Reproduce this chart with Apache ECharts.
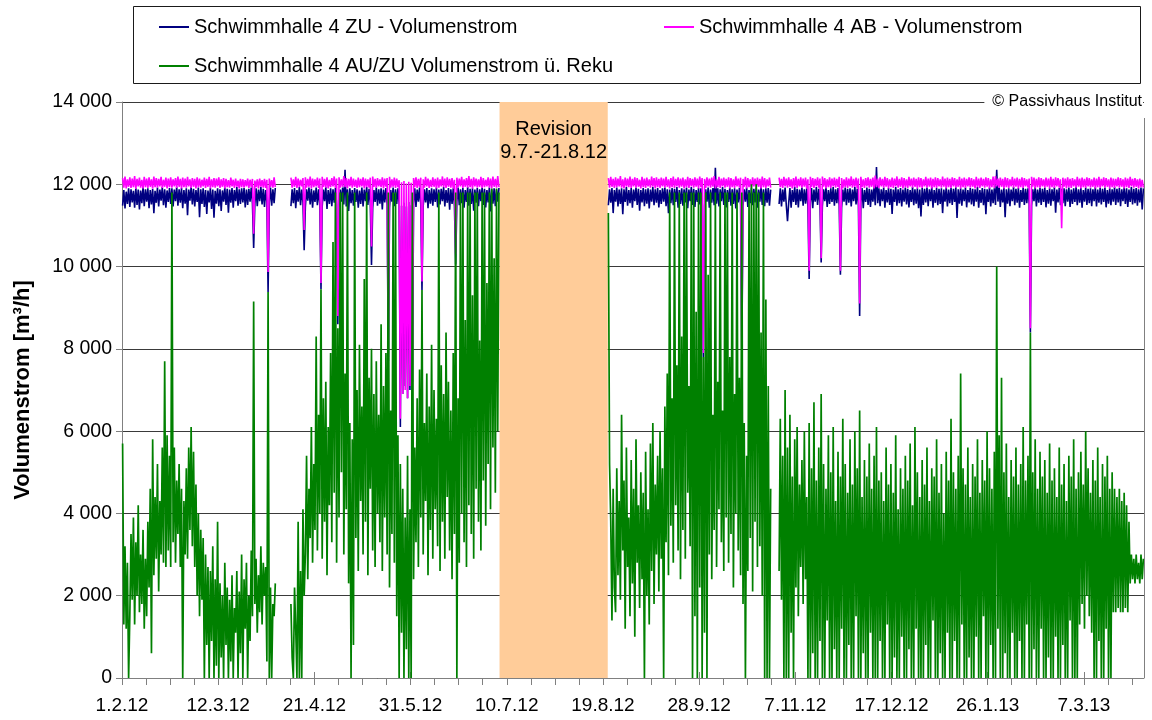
<!DOCTYPE html>
<html>
<head>
<meta charset="utf-8">
<script src="https://cdn.jsdelivr.net/npm/echarts@6/dist/echarts.min.js"></script>
<style>
  html, body { margin: 0; padding: 0; background: #fff; }
  #chart { width: 1152px; height: 720px; }
</style>
</head>
<body>
<div id="chart"></div>
<script>
// Volume flow of the pool hall ventilation unit, 1.2.2012 - 31.3.2013.
// Measured values are sampled every 12 hours; each list of a series holds one
// measuring period (the unit was off between the periods).

const seriesNames = [
  'Schwimmhalle 4 ZU - Volumenstrom',
  'Schwimmhalle 4 AB - Volumenstrom',
  'Schwimmhalle 4 AU/ZU Volumenstrom ü. Reku'
];

// first day of each measuring period (days since 1.2.2012)
const periodStart = [0, 70, 202, 273];
const sampleStep = 0.5; // days

// x axis: labelled dates every 40 days, minor ticks every 10 days
const labelDays = [0, 40, 80, 120, 160, 200, 240, 280, 320, 360, 400];
const tickDays = [0, 10, 20, 30, 40, 50, 60, 70, 80, 90, 100, 110, 120, 130, 140, 150, 160, 170, 180, 190, 200,
  210, 220, 230, 240, 250, 260, 270, 280, 290, 300, 310, 320, 330, 340, 350, 360, 370, 380, 390, 400, 410, 420];
const dayMax = 425;

// maintenance shutdown
const revisionFrom = 157;
const revisionTo = 202;
const revisionText = 'Revision\n9.7.-21.8.12';

// supply air flow [m³/h]
const zuFlow = [
  [11480,11860, 11410,11820, 11520,11900, 11450,11880, 11560,11840, 11430,11910, 11500,11870, 11390,11850, 11540,11930, 11470,11880,
   11580,11900, 11420,11860, 11510,11890, 11300,11840, 11550,11920, 11460,11870, 11600,11930, 11490,11880, 11430,11850, 11570,11910,
   11520,11900, 11460,11870, 11590,11940, 11480,11880, 11550,11910, 11420,11860, 11530,11900, 11250,11870, 11600,11930, 11510,11890,
   11460,11860, 11570,11920, 11200,11880, 11520,11900, 11450,11860, 11280,11850, 11560,11910, 11400,11870, 11190,11840, 11530,11900,
   11470,11880, 11350,11850, 11580,11920, 11500,11890, 11310,11870, 11550,11910, 11430,11860, 11590,11930, 11480,11880, 11520,11900,
   11560,11910, 11440,11870, 11500,11890, 11580,11920, 11530,10450, 11530,11900, 11470,11870, 11590,11930, 11510,11890, 11450,11860,
   11560,9380, 11560,11920, 11480,11880, 11540,11910],
  [11470,11880, 11540,11910, 11420,11860, 11580,11930, 11490,11870, 11560,10400, 11450,11880, 11600,11920, 11510,11890, 11430,11850,
   11570,11920, 11490,11880, 11530,9450, 11460,11870, 11590,11930, 11400,11860, 11520,11900, 11470,11880, 11550,11910, 11500,8600,
   11440,11870, 11580,11920, 11510,12350, 11460,11880, 11350,11900, 11540,11860, 11480,11910, 11570,11880, 11430,11850, 11520,11920,
   11460,11870, 11590,11930, 11500,11890, 11540,10040, 11420,11860, 11570,11920, 11480,11880, 11530,11900, 11390,11870, 11560,11910,
   11500,7700, 11440,11860, 11580,11920, 11470,11880, 11520,11900, 11530,6100, 11480,6900, 11550,7100, 11460,6800, 11570,7000,
   11490,7200, 11540,11900, 11450,11870, 11580,11920, 11510,9430, 11470,11880, 11560,11910, 11420,11860, 11530,11900, 11480,11880,
   11570,11920, 11440,11870, 11510,11890, 11590,11930, 11460,11860, 11550,11910, 11380,11880, 11520,11900, 11470,10050, 11580,11920,
   11490,11880, 11540,11910, 11430,11860, 11570,11930, 11480,11890, 11520,11900, 11360,11870, 11550,11910, 11470,11880, 11590,11920,
   11500,11890, 11440,11860, 11560,11920, 11340,11880, 11530,11900, 11470,11870, 11580,11910],
  [11490,11880, 11550,11910, 11300,11860, 11580,11920, 11460,11870, 11520,11900, 11270,11880, 11570,11930, 11480,11860, 11540,11910,
   11430,11870, 11590,11920, 11500,11890, 11360,11860, 11560,11910, 11470,11880, 11530,11900, 11410,11870, 11580,11930, 11490,11880,
   11550,11910, 11440,11860, 11520,11900, 11580,11920, 11470,11880, 11300,11870, 11540,11910, 11490,11890, 11570,11930, 11430,11860,
   11520,11900, 11480,11880, 11560,11920, 11420,11870, 11590,11930, 11500,11890, 11450,11860, 11570,11910, 11510,11900, 11540,7800,
   11470,11880, 11580,11920, 11430,11870, 11550,11910, 11490,12400, 11530,11900, 11460,11880, 11590,11930, 11500,11890, 11440,11860,
   11570,11920, 11480,11880, 11520,11900, 11410,11870, 11560,11910, 11500,7900, 11470,11880, 11580,11920, 11450,11860, 11540,11910,
   11490,11890, 11560,11920, 11430,11870, 11580,11930, 11500,11880, 11470,11900, 11550,11910, 11480,11870],
  [11520,11900, 11460,11870, 11580,11920, 11490,11100, 11550,11910, 11430,11860, 11570,11930, 11500,11890, 11440,11870, 11590,11920,
   11480,11880, 11530,11900, 11460,9700, 11560,11910, 11420,11870, 11580,11930, 11500,11890, 11540,10100, 11470,11880, 11590,11920,
   11450,11860, 11520,11900, 11570,11930, 11480,11880, 11540,11910, 11500,9800, 11430,11870, 11580,11920, 11490,11890, 11550,11900,
   11460,11870, 11590,11930, 11510,11890, 11480,8800, 11560,11910, 11420,11860, 11570,11920, 11500,11890, 11450,11870, 11580,11930,
   11490,12420, 11540,11900, 11470,11880, 11590,11920, 11430,11860, 11560,11910, 11500,11890, 11280,11870, 11570,11930, 11480,11880,
   11540,11910, 11460,11870, 11580,11920, 11510,11890, 11440,11860, 11570,11930, 11490,11880, 11530,11900, 11420,11870, 11220,11910,
   11500,11890, 11560,11920, 11470,11880, 11590,11930, 11430,11860, 11550,11910, 11490,11890, 11520,11900, 11300,11870, 11580,11920,
   11460,11870, 11540,11910, 11500,11890, 11570,11930, 11180,11880, 11530,11900, 11480,11870, 11590,11920, 11440,11860, 11560,11910,
   11510,11890, 11470,11880, 11580,11930, 11430,11860, 11550,11910, 11490,11890, 11270,11880, 11570,11920, 11460,11870, 11540,11900,
   11500,12350, 11580,11920, 11450,11870, 11560,11910, 11200,11880, 11530,11900, 11470,11870, 11590,11930, 11490,11890, 11550,11910,
   11430,11860, 11570,11920, 11500,11890, 11540,11900, 11520,8400, 11480,11880, 11590,11930, 11460,11870, 11550,11910, 11500,11890,
   11570,11920, 11440,11860, 11530,11900, 11480,11880, 11590,11930, 11310,11870, 11560,11910, 11490,11890, 11540,11900, 11470,11880,
   11580,11920, 11450,11870, 11520,11900, 11570,11930, 11490,11880, 11550,11910, 11430,11860, 11580,11920, 11500,11890, 11540,11900,
   11470,11880, 11590,11930, 11460,11870, 11550,11910, 11510,11890, 11570,11920, 11440,11860, 11530,11900, 11490,11880, 11580,11930,
   11500,11890, 11560,11910, 11470,11880, 11590,11920, 11520,11900, 11450,11870, 11570,11930, 11510,11890, 11540,11910, 11480,11880,
   11560,11920, 11390,11900]
];

// exhaust air flow [m³/h]
const abFlow = [
  [12150,11920, 12190,11900, 12120,11940, 12170,11910, 12140,11930, 12200,11890, 12130,11950, 12160,11920, 12110,11900, 12180,11930,
   12140,11910, 12170,11940, 12120,11900, 12190,11930, 12150,11920, 12130,11950, 12180,11910, 12110,11940, 12160,11900, 12140,11930,
   12170,11920, 12120,11950, 12150,11910, 12190,11940, 12130,11900, 12160,11930, 12140,11920, 12180,11950, 12120,11910, 12150,11940,
   12130,11900, 12170,11930, 12140,11920, 12110,11950, 12160,11910, 12130,11940, 12180,11900, 12120,11930, 12150,11920, 12140,11950,
   12170,11910, 12120,11940, 12150,11900, 12130,11930, 12100,11920, 12160,11950, 12110,11910, 12140,11940, 12090,11900, 12130,11930,
   12120,11920, 12100,11950, 12140,11910, 12110,11940, 12130,10800, 12090,11930, 12120,11900, 12140,11940, 12100,11920, 12130,11910,
   12110,9870, 12140,11940, 12100,11920, 12170,11930],
  [12160,11920, 12120,11940, 12180,11910, 12140,11930, 12110,11950, 12150,10890, 12170,11920, 12130,11940, 12190,11900, 12140,11930,
   12120,11950, 12160,11910, 12140,9600, 12180,11940, 12130,11920, 12170,11900, 12110,11930, 12150,11950, 12190,11910, 12140,8800,
   12170,11920, 12120,11940, 12200,11930, 12150,11900, 12130,11950, 12180,11920, 12140,11940, 12110,11910, 12160,11930, 12130,11950,
   12170,11900, 12140,11930, 12120,11920, 12160,10490, 12190,11940, 12130,11910, 12150,11950, 12120,11930, 12170,11900, 12140,11940,
   12150,7800, 12180,11920, 12120,11940, 12160,11910, 12140,11930, 12100,6300, 12050,6900, 12080,7000, 12020,6800, 12060,7100,
   12040,7000, 12150,11930, 12170,11910, 12130,11940, 12160,9640, 12120,11920, 12180,11950, 12140,11910, 12110,11930, 12170,11940,
   12130,11900, 12160,11920, 12120,11950, 12190,11930, 12140,11910, 12170,11940, 12130,11920, 12150,11900, 12110,10300, 12160,11930,
   12140,11950, 12180,11910, 12120,11940, 12150,11920, 12200,11930, 12130,11900, 12170,11950, 12140,11920, 12120,11940, 12180,11910,
   12150,11930, 12110,11950, 12170,11920, 12140,11900, 12190,11940, 12130,11920, 12200,11930],
  [12150,11920, 12180,11940, 12130,11910, 12170,11930, 12140,11950, 12200,11920, 12120,11900, 12160,11940, 12140,11930, 12190,11910,
   12130,11950, 12170,11920, 12150,11940, 12110,11900, 12180,11930, 12140,11910, 12160,11950, 12120,11920, 12190,11940, 12150,11900,
   12170,11930, 12130,11910, 12160,11950, 12140,11920, 12180,11940, 12120,11900, 12150,11930, 12190,11910, 12130,11950, 12170,11920,
   12140,11940, 12160,11900, 12120,11930, 12180,11910, 12150,11950, 12130,11920, 12170,11940, 12140,11900, 12190,11930, 12150,7900,
   12130,11910, 12170,11950, 12140,11920, 12160,11940, 12200,11900, 12120,11930, 12180,11910, 12140,11950, 12160,11920, 12130,11940,
   12170,11900, 12150,11930, 12120,11910, 12190,11950, 12140,11920, 12160,7950, 12130,11940, 12180,11900, 12150,11930, 12120,11910,
   12170,11950, 12140,11920, 12160,11940, 12130,11900, 12190,11930, 12150,11910, 12120,11950, 12160,11920],
  [12160,11930, 12130,11910, 12180,11950, 12140,11920, 12170,11940, 12120,11900, 12150,11930, 12190,11910, 12130,11950, 12170,11920,
   12140,11940, 12160,11900, 12120,9900, 12180,11930, 12150,11910, 12130,11950, 12170,11920, 12140,10200, 12190,11940, 12150,11900,
   12120,11930, 12170,11910, 12140,11950, 12160,11920, 12130,11940, 12180,9900, 12150,11900, 12120,11930, 12170,11910, 12140,11950,
   12190,11920, 12130,11940, 12160,11900, 12140,9100, 12180,11930, 12120,11910, 12150,11950, 12170,11920, 12130,11940, 12160,11900,
   12210,11930, 12140,11910, 12170,11950, 12130,11920, 12180,11940, 12150,11900, 12120,11930, 12160,11910, 12140,11950, 12190,11920,
   12130,11940, 12170,11900, 12150,11930, 12120,11910, 12180,11950, 12140,11920, 12160,11940, 12130,11900, 12170,11930, 12150,11910,
   12120,11950, 12180,11920, 12140,11940, 12160,11900, 12130,11930, 12170,11910, 12150,11950, 12120,11920, 12190,11940, 12140,11900,
   12160,11930, 12130,11910, 12170,11950, 12150,11920, 12120,11940, 12180,11900, 12140,11930, 12160,11910, 12130,11950, 12170,11920,
   12150,11940, 12120,11900, 12180,11930, 12140,11910, 12160,11950, 12130,11920, 12170,11940, 12150,11900, 12120,11930, 12190,11910,
   12200,11950, 12140,11920, 12160,11940, 12130,11900, 12170,11930, 12150,11910, 12120,11950, 12180,11920, 12140,11940, 12160,11900,
   12130,11930, 12170,11910, 12150,11950, 12120,11920, 12140,8500, 12180,11940, 12160,11900, 12130,11930, 12170,11910, 12150,11950,
   12120,11920, 12160,11940, 12140,11900, 12180,11930, 12130,11910, 12170,11950, 12150,11920, 12120,10930, 12160,11940, 12140,11900,
   12170,11930, 12130,11910, 12150,11950, 12120,11920, 12180,11940, 12140,11900, 12160,11930, 12130,11910, 12170,11950, 12150,11920,
   12120,11940, 12160,11900, 12140,11930, 12180,11910, 12130,11950, 12170,11920, 12150,11940, 12120,11900, 12160,11930, 12140,11910,
   12130,11950, 12170,11920, 12150,11940, 12120,11900, 12160,11930, 12140,11910, 12180,11950, 12130,11920, 12150,11940, 12120,11900,
   12140,11930, 12110,11920]
];

// outdoor / supply air flow through the heat recovery [m³/h]
const auFlow = [
  [5700,1300, 3200,1200, 2800,0, 1500,3500, 1900,3900, 1300,3300, 2000,4200, 1600,3000, 1800,3600, 1200,2900,
   1500,3800, 2200,4600, 600,5800, 2500,4400, 2900,5200, 2100,4300, 3000,5600, 2800,7700, 2700,5900, 3100,5400,
   2700,11800, 3300,5600, 2800,4800, 3500,5200, 2700,4600, 0,4300, 3000,5100, 2900,5600, 3600,6100, 3200,5500,
   2700,4700, 2000,4000, 1500,3600, 1900,3400, 0,3000, 800,2700, 0,2600, 900,3200, 0,2400, 300,3800,
   0,2300, 500,2000, 0,2800, 800,2200, 0,1900, 400,2500, 0,1700, 1100,2600, 0,2100, 600,3000,
   0,2400, 1200,2800, 0,2000, 900,3100, 1500,9150, 1800,2900, 1100,2500, 1600,3200, 1300,2800, 2000,2700,
   400,9380, 0,2200, 0,1800, 1500,2300],
  [1800,500, 0,2200, 1200,0, 3800,0, 2600,0, 4100,2000, 3000,5400, 2400,4600, 3400,6100, 2800,5200,
   3600,8300, 3100,6400, 4000,9450, 2900,6800, 3800,7200, 2500,6100, 4200,7900, 3300,10600, 4500,11800, 2800,8500,
   3900,11800, 5000,11800, 3000,7400, 4100,11800, 2300,6200, 0,5800, 800,11800, 3400,7000, 2600,8100, 4300,6600,
   3000,9700, 3800,11800, 2500,7300, 4600,8000, 3100,6900, 2700,7700, 4000,6400, 3300,8600, 2600,7100, 3900,7900,
   3000,11800, 2200,6500, 3500,11800, 2800,11800, 1500,5900, 0,5200, 1100,4600, 0,3900, 700,5400, 0,4100,
   0,11800, 2400,5600, 3300,6800, 2700,7500, 3900,9430, 3000,6200, 4300,7400, 2500,6600, 3600,8100, 2900,7000,
   4100,6300, 3200,11800, 2600,7600, 3800,6900, 2900,8400, 4400,7200, 3100,6500, 2400,7900, 3500,11800, 0,6800,
   2800,11800, 4000,11800, 3300,8700, 2700,11800, 4200,11800, 3500,9300, 2900,11800, 4600,11800, 3800,8200, 3100,11800,
   4800,11800, 3700,9600, 5200,11800, 4100,11900, 5600,10200, 4500,11900, 6000,11800],
  [11300,5200, 3800,1400, 4600,2200, 1600,5100, 2500,4300, 1900,6400, 3100,4800, 1200,5600, 2700,3900, 1500,5300,
   2300,4600, 1000,5800, 2800,4200, 1700,5000, 2400,4500, 0,5500, 2000,4100, 1300,5700, 2600,6200, 1800,4700,
   3000,5400, 2100,6000, 2900,5100, 0,6600, 3300,7400, 2500,11800, 3700,6800, 2800,11800, 4200,7600, 3100,11800,
   2400,8300, 3600,11800, 2900,11800, 4500,7100, 3200,11800, 0,11800, 1500,8900, 0,11800, 2200,11800, 0,7800,
   1100,11800, 0,9800, 3000,11800, 2400,6400, 3600,11800, 2700,7200, 4100,11800, 3300,6500, 2600,11800, 3900,11800,
   2800,7800, 3500,11800, 2200,6900, 4000,11800, 3100,7300, 2500,11800, 1800,6200, 0,5400, 2600,11800, 3400,12000,
   2100,11800, 3800,12000, 2700,11800, 3200,8400, 2000,11800, 0,9200, 0,7100, 0,4600],
  [2600,6300, 1900,5400, 0,7000, 0,5600, 0,6400, 1100,4900, 0,5800, 2200,6100, 1500,4700, 2700,5300,
   1800,6000, 2400,4400, 0,6200, 0,5100, 600,6700, 0,4800, 0,5600, 900,6900, 0,5200, 0,4600,
   1400,5900, 0,5000, 0,6100, 700,4300, 0,5500, 0,4900, 1200,6300, 0,5200, 0,4500, 800,5800,
   0,4700, 0,6000, 1500,5100, 0,6500, 0,4400, 600,5300, 0,4900, 0,5700, 1100,4600, 0,5400,
   0,6100, 0,4800, 900,5000, 0,4300, 0,5600, 1300,4700, 0,5200, 0,4500, 500,5900, 0,4100,
   0,5100, 1000,4600, 0,5400, 0,4800, 700,5700, 0,4200, 0,6100, 1200,5000, 0,4400, 0,5300,
   0,4700, 800,5600, 0,4300, 0,5100, 1400,4900, 0,5800, 0,4500, 600,5200, 0,4000, 0,5500,
   1100,4800, 0,6300, 0,5000, 900,4600, 0,5400, 0,7400, 1300,5100, 0,4700, 0,5600, 500,4400,
   0,5200, 0,4900, 1000,5800, 0,4500, 0,5300, 1500,4800, 0,6000, 0,5100, 800,4600, 0,5500,
   0,10000, 1200,5900, 0,7300, 0,5000, 600,5700, 0,4400, 0,5300, 1100,4900, 0,5600, 0,4700,
   900,5200, 0,6100, 0,4800, 1300,5400, 0,8400, 0,5000, 700,5800, 0,4600, 0,5500, 1200,4900,
   0,5300, 0,4500, 500,5700, 0,4800, 0,5100, 1000,4400, 0,5600, 0,4700, 800,5200, 0,4300,
   0,5400, 1400,4900, 0,5800, 0,4600, 0,5000, 1300,5500, 1800,4700, 1200,6000, 2000,5100, 1500,4500,
   1100,5300, 0,4800, 0,5600, 900,4400, 0,5200, 0,4900, 1200,5400, 0,4600, 0,5000, 1600,4600,
   1600,4400, 1700,4600, 1600,4300, 1600,4500, 1700,4200, 1600,3800, 2300,3000, 2400,2900, 2300,3000, 2400,2800,
   2300,3000, 2400,2900]
];

const seriesColors = ['#000080', '#ff00ff', '#008000'];
const FONT = '"Liberation Sans", Arial, Helvetica, sans-serif';

// [day, value] pairs; a null point between periods breaks the line
function toPoints(periods) {
  const pts = [];
  periods.forEach((vals, p) => {
    if (p > 0) pts.push([periodStart[p] - 0.5, null]);
    vals.forEach((v, i) => pts.push([periodStart[p] + i * sampleStep + sampleStep / 2, v]));
  });
  return pts;
}

const dayZero = Date.UTC(2012, 1, 1);
function dayLabel(d) {
  const t = new Date(dayZero + Math.round(d) * 86400000);
  return t.getUTCDate() + '.' + (t.getUTCMonth() + 1) + '.' + String(t.getUTCFullYear()).slice(2);
}
function thousands(v) {
  if (v < 1000) return String(v);
  return Math.floor(v / 1000) + ' ' + String(v % 1000).padStart(3, '0');
}

const legendBase = {
  icon: 'rect', itemWidth: 30, itemHeight: 2, padding: 0, itemGap: 0,
  selectedMode: false,
  textStyle: { fontSize: 20, color: '#000', fontFamily: FONT }
};

const lineBase = {
  type: 'line', showSymbol: false, symbol: 'none', sampling: null,
  connectNulls: false, animation: false, silent: true, clip: false
};

const chart = echarts.init(document.getElementById('chart'), null, { renderer: 'canvas' });

chart.setOption({
  animation: false,
  backgroundColor: '#ffffff',
  textStyle: { fontFamily: FONT },
  grid: { left: 122, right: 8, top: 102, bottom: 42 },
  legend: [
    Object.assign({ data: [seriesNames[0]], left: 159, top: 17 }, legendBase),
    Object.assign({ data: [seriesNames[1]], left: 664, top: 17 }, legendBase),
    Object.assign({ data: [seriesNames[2]], left: 159, top: 56 }, legendBase)
  ],
  xAxis: [
    {
      type: 'value', min: 0, max: dayMax, interval: 40, position: 'bottom',
      axisLine: { show: true, lineStyle: { color: '#808080', width: 1 } },
      axisTick: { show: true, customValues: tickDays, length: 7, lineStyle: { color: '#808080' } },
      axisLabel: {
        customValues: labelDays, formatter: dayLabel,
        fontSize: 19, color: '#000', margin: 18, fontFamily: FONT
      },
      splitLine: { show: false }
    },
    {
      type: 'value', min: 0, max: dayMax, interval: 40, position: 'bottom',
      axisLine: { show: false },
      axisTick: { show: true, inside: true, customValues: labelDays, length: 6, lineStyle: { color: '#808080' } },
      axisLabel: { show: false },
      splitLine: { show: false }
    }
  ],
  yAxis: {
    type: 'value', min: 0, max: 14000, interval: 2000,
    name: 'Volumenstrom [m³/h]', nameLocation: 'middle', nameGap: 88,
    nameTextStyle: { fontSize: 22, fontWeight: 'bold', color: '#000', fontFamily: FONT },
    axisLine: { show: true, lineStyle: { color: '#808080', width: 1 } },
    axisTick: { show: true, length: 6, lineStyle: { color: '#808080' } },
    axisLabel: { formatter: thousands, fontSize: 19.5, color: '#000', margin: 10, fontFamily: FONT },
    splitLine: { show: true, lineStyle: { color: '#3a3a3a', width: 1 } }
  },
  graphic: [
    {
      type: 'rect', z: 0,
      shape: { x: 133.5, y: 6.5, width: 1007, height: 77 },
      style: { fill: '#fff', stroke: '#1a1a1a', lineWidth: 1 }
    },
    {
      type: 'line', z: 50,
      shape: { x1: 1144.5, y1: 118, x2: 1144.5, y2: 678 },
      style: { stroke: '#808080', lineWidth: 1 }
    },
    {
      type: 'text', z: 100,
      style: {
        text: '© Passivhaus Institut', x: 1143, y: 102, align: 'right', verticalAlign: 'middle',
        fontSize: 16, fontFamily: FONT, fill: '#000',
        backgroundColor: '#fff', padding: [4, 1, 6, 8]
      }
    }
  ],
  series: [
    Object.assign({}, lineBase, {
      name: seriesNames[0], color: seriesColors[0],
      lineStyle: { color: seriesColors[0], width: 1.6 },
      data: toPoints(zuFlow),
      markArea: {
        silent: true,
        itemStyle: { color: '#ffcc99', opacity: 1 },
        label: {
          show: true, position: 'insideTop', distance: 16, formatter: revisionText,
          fontSize: 20, lineHeight: 23, color: '#000', fontFamily: FONT
        },
        data: [[{ xAxis: revisionFrom, yAxis: 0 }, { xAxis: revisionTo, yAxis: 14000 }]]
      }
    }),
    Object.assign({}, lineBase, {
      name: seriesNames[1], color: seriesColors[1],
      lineStyle: { color: seriesColors[1], width: 1.6 },
      data: toPoints(abFlow)
    }),
    Object.assign({}, lineBase, {
      name: seriesNames[2], color: seriesColors[2],
      lineStyle: { color: seriesColors[2], width: 1.7 },
      data: toPoints(auFlow)
    })
  ]
});
</script>
</body>
</html>
